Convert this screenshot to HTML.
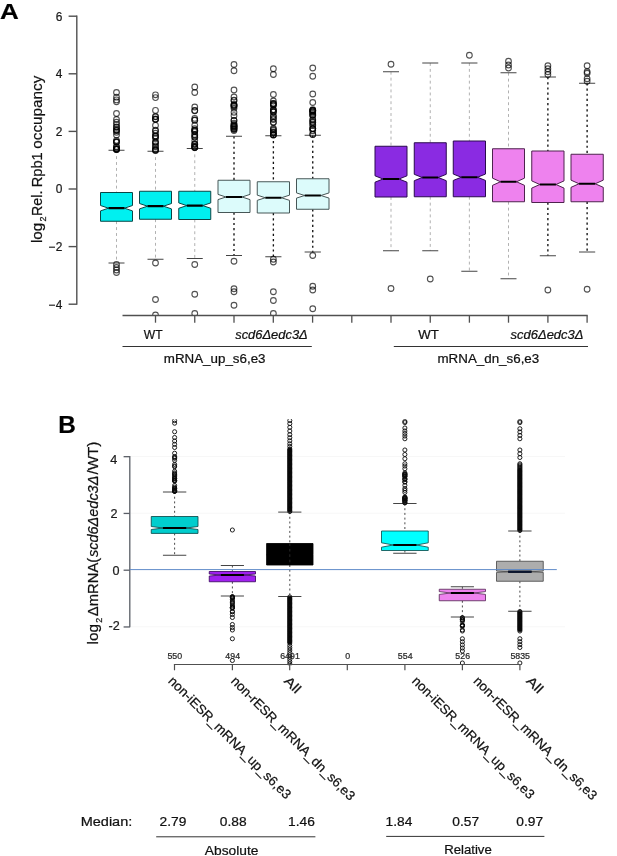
<!DOCTYPE html>
<html lang="en"><head><meta charset="utf-8"><title>Figure: Rpb1 occupancy and mRNA changes</title>
<style>html,body{margin:0;padding:0;background:#fff;}body{width:617px;height:856px;overflow:hidden;}svg{display:block;font-family:'Liberation Sans', sans-serif;}text{white-space:pre;stroke:#111;stroke-width:0.22px;}</style></head><body>
<svg width="617" height="856" viewBox="0 0 617 856">
<rect x="0" y="0" width="617" height="856" fill="#ffffff"/>
<g id="panelA">
<text x="0.1" y="18.7" font-size="22.6" text-anchor="start" fill="#000" font-weight="bold" textLength="18.8" lengthAdjust="spacingAndGlyphs">A</text>
<line x1="76.8" y1="15.6" x2="76.8" y2="304.8" stroke="#505050" stroke-width="1.4"/>
<line x1="68.6" y1="16.2" x2="76.8" y2="16.2" stroke="#505050" stroke-width="1.4"/>
<text x="62.3" y="20.6" font-size="11.9" text-anchor="end" fill="#1c1c1c" stroke="#1c1c1c" stroke-width="0.35">6</text>
<line x1="68.6" y1="73.8" x2="76.8" y2="73.8" stroke="#505050" stroke-width="1.4"/>
<text x="62.3" y="78.2" font-size="11.9" text-anchor="end" fill="#1c1c1c" stroke="#1c1c1c" stroke-width="0.35">4</text>
<line x1="68.6" y1="131.4" x2="76.8" y2="131.4" stroke="#505050" stroke-width="1.4"/>
<text x="62.3" y="135.8" font-size="11.9" text-anchor="end" fill="#1c1c1c" stroke="#1c1c1c" stroke-width="0.35">2</text>
<line x1="68.6" y1="189" x2="76.8" y2="189" stroke="#505050" stroke-width="1.4"/>
<text x="62.3" y="193.4" font-size="11.9" text-anchor="end" fill="#1c1c1c" stroke="#1c1c1c" stroke-width="0.35">0</text>
<line x1="68.6" y1="246.6" x2="76.8" y2="246.6" stroke="#505050" stroke-width="1.4"/>
<text x="62.3" y="251" font-size="11.9" text-anchor="end" fill="#1c1c1c" stroke="#1c1c1c" stroke-width="0.35">−2</text>
<line x1="68.6" y1="304.2" x2="76.8" y2="304.2" stroke="#505050" stroke-width="1.4"/>
<text x="62.3" y="308.6" font-size="11.9" text-anchor="end" fill="#1c1c1c" stroke="#1c1c1c" stroke-width="0.35">−4</text>
<g transform="translate(41.8 243.0) rotate(-90)">
<text x="0" y="0" font-size="15.2" text-anchor="start" fill="#111" textLength="20.2" lengthAdjust="spacingAndGlyphs">log</text>
<text x="21.4" y="4.3" font-size="8.8" text-anchor="start" fill="#111" textLength="5" lengthAdjust="spacingAndGlyphs">2</text>
<text x="27" y="0" font-size="15.2" text-anchor="start" fill="#111" textLength="25.4" lengthAdjust="spacingAndGlyphs">Rel.</text>
<text x="55.7" y="0" font-size="15.2" text-anchor="start" fill="#111" textLength="35.1" lengthAdjust="spacingAndGlyphs">Rpb1</text>
<text x="94.3" y="0" font-size="15.2" text-anchor="start" fill="#111" textLength="73.1" lengthAdjust="spacingAndGlyphs">occupancy</text>
</g>
<clipPath id="clipA"><rect x="78" y="10" width="539" height="305.6"/></clipPath>
<g clip-path="url(#clipA)">
<line x1="116.5" y1="150.25" x2="116.5" y2="192.5" stroke="#adadad" stroke-width="0.95" stroke-dasharray="2.9 3.0"/>
<line x1="116.5" y1="221.25" x2="116.5" y2="263" stroke="#adadad" stroke-width="0.95" stroke-dasharray="2.9 3.0"/>
<line x1="108.5" y1="150.25" x2="124.5" y2="150.25" stroke="#444" stroke-width="1"/>
<line x1="108.5" y1="263" x2="124.5" y2="263" stroke="#444" stroke-width="1"/>
<g fill="none" stroke="#000" stroke-opacity="0.68" stroke-width="1.1"><circle cx="116.5" cy="92.5" r="2.85"/><circle cx="116.5" cy="97.2" r="2.85"/><circle cx="116.5" cy="99.9" r="2.85"/><circle cx="116.5" cy="101.8" r="2.85"/><circle cx="116.5" cy="113.5" r="2.85"/><circle cx="116.5" cy="149.4" r="2.85"/><circle cx="116.5" cy="149.4" r="2.85"/><circle cx="116.5" cy="149.33" r="2.85"/><circle cx="116.5" cy="149.32" r="2.85"/><circle cx="116.5" cy="148.86" r="2.85"/><circle cx="116.5" cy="148.41" r="2.85"/><circle cx="116.5" cy="146.96" r="2.85"/><circle cx="116.5" cy="146.47" r="2.85"/><circle cx="116.5" cy="142.2" r="2.85"/><circle cx="116.5" cy="141.84" r="2.85"/><circle cx="116.5" cy="141.72" r="2.85"/><circle cx="116.5" cy="140.34" r="2.85"/><circle cx="116.5" cy="134.96" r="2.85"/><circle cx="116.5" cy="132.23" r="2.85"/><circle cx="116.5" cy="130.55" r="2.85"/><circle cx="116.5" cy="130.49" r="2.85"/><circle cx="116.5" cy="129.43" r="2.85"/><circle cx="116.5" cy="127.36" r="2.85"/><circle cx="116.5" cy="126.83" r="2.85"/><circle cx="116.5" cy="124.34" r="2.85"/><circle cx="116.5" cy="122.23" r="2.85"/><circle cx="116.5" cy="119.5" r="2.85"/><circle cx="116.5" cy="264.5" r="2.85"/><circle cx="116.5" cy="267.5" r="2.85"/><circle cx="116.5" cy="270" r="2.85"/><circle cx="116.5" cy="272.5" r="2.85"/></g>
<polygon points="100.5,192.5 132.5,192.5 132.5,205.5 124.5,208.2 132.5,210.9 132.5,221.25 100.5,221.25 100.5,210.9 108.5,208.2 100.5,205.5" fill="#00f0f0" stroke="#0a4646" stroke-width="1" stroke-linejoin="miter"/>
<line x1="108.5" y1="208.2" x2="124.5" y2="208.2" stroke="#000" stroke-width="2.2"/>
<line x1="155.5" y1="151.25" x2="155.5" y2="191.25" stroke="#adadad" stroke-width="0.95" stroke-dasharray="2.9 3.0"/>
<line x1="155.5" y1="219.25" x2="155.5" y2="259.25" stroke="#adadad" stroke-width="0.95" stroke-dasharray="2.9 3.0"/>
<line x1="147.5" y1="151.25" x2="163.5" y2="151.25" stroke="#444" stroke-width="1"/>
<line x1="147.5" y1="259.25" x2="163.5" y2="259.25" stroke="#444" stroke-width="1"/>
<g fill="none" stroke="#000" stroke-opacity="0.68" stroke-width="1.1"><circle cx="155.5" cy="94.8" r="2.85"/><circle cx="155.5" cy="97.6" r="2.85"/><circle cx="155.5" cy="110.4" r="2.85"/><circle cx="155.5" cy="150.4" r="2.85"/><circle cx="155.5" cy="150.14" r="2.85"/><circle cx="155.5" cy="149.89" r="2.85"/><circle cx="155.5" cy="148.92" r="2.85"/><circle cx="155.5" cy="146.78" r="2.85"/><circle cx="155.5" cy="145.82" r="2.85"/><circle cx="155.5" cy="143.46" r="2.85"/><circle cx="155.5" cy="142.3" r="2.85"/><circle cx="155.5" cy="141.85" r="2.85"/><circle cx="155.5" cy="138.35" r="2.85"/><circle cx="155.5" cy="136.92" r="2.85"/><circle cx="155.5" cy="135.93" r="2.85"/><circle cx="155.5" cy="135.9" r="2.85"/><circle cx="155.5" cy="133.25" r="2.85"/><circle cx="155.5" cy="130.87" r="2.85"/><circle cx="155.5" cy="130.27" r="2.85"/><circle cx="155.5" cy="125.42" r="2.85"/><circle cx="155.5" cy="119.45" r="2.85"/><circle cx="155.5" cy="119.36" r="2.85"/><circle cx="155.5" cy="118.99" r="2.85"/><circle cx="155.5" cy="116.8" r="2.85"/><circle cx="155.5" cy="116.5" r="2.85"/><circle cx="155.5" cy="263" r="2.85"/><circle cx="155.5" cy="299.5" r="2.85"/><circle cx="155.5" cy="315" r="2.85"/></g>
<polygon points="139.5,191.25 171.5,191.25 171.5,203.5 163.5,206.2 171.5,208.9 171.5,219.25 139.5,219.25 139.5,208.9 147.5,206.2 139.5,203.5" fill="#00f0f0" stroke="#0a4646" stroke-width="1" stroke-linejoin="miter"/>
<line x1="147.5" y1="206.2" x2="163.5" y2="206.2" stroke="#000" stroke-width="2.2"/>
<line x1="194.75" y1="148.5" x2="194.75" y2="191.25" stroke="#adadad" stroke-width="0.95" stroke-dasharray="2.9 3.0"/>
<line x1="194.75" y1="219.5" x2="194.75" y2="258.5" stroke="#adadad" stroke-width="0.95" stroke-dasharray="2.9 3.0"/>
<line x1="186.75" y1="148.5" x2="202.75" y2="148.5" stroke="#444" stroke-width="1"/>
<line x1="186.75" y1="258.5" x2="202.75" y2="258.5" stroke="#444" stroke-width="1"/>
<g fill="none" stroke="#000" stroke-opacity="0.68" stroke-width="1.1"><circle cx="194.75" cy="87" r="2.85"/><circle cx="194.75" cy="92.5" r="2.85"/><circle cx="194.75" cy="107" r="2.85"/><circle cx="194.75" cy="147.6" r="2.85"/><circle cx="194.75" cy="147.58" r="2.85"/><circle cx="194.75" cy="147.25" r="2.85"/><circle cx="194.75" cy="147.24" r="2.85"/><circle cx="194.75" cy="146.11" r="2.85"/><circle cx="194.75" cy="144.45" r="2.85"/><circle cx="194.75" cy="144.37" r="2.85"/><circle cx="194.75" cy="143.86" r="2.85"/><circle cx="194.75" cy="140.76" r="2.85"/><circle cx="194.75" cy="137.31" r="2.85"/><circle cx="194.75" cy="137.08" r="2.85"/><circle cx="194.75" cy="135.27" r="2.85"/><circle cx="194.75" cy="134.41" r="2.85"/><circle cx="194.75" cy="131.86" r="2.85"/><circle cx="194.75" cy="130.88" r="2.85"/><circle cx="194.75" cy="130.46" r="2.85"/><circle cx="194.75" cy="130.27" r="2.85"/><circle cx="194.75" cy="128.75" r="2.85"/><circle cx="194.75" cy="125.3" r="2.85"/><circle cx="194.75" cy="120.21" r="2.85"/><circle cx="194.75" cy="120.16" r="2.85"/><circle cx="194.75" cy="118.43" r="2.85"/><circle cx="194.75" cy="110.77" r="2.85"/><circle cx="194.75" cy="110.5" r="2.85"/><circle cx="194.75" cy="264.5" r="2.85"/><circle cx="194.75" cy="294.25" r="2.85"/><circle cx="194.75" cy="313.5" r="2.85"/></g>
<polygon points="178.75,191.25 210.75,191.25 210.75,202.9 202.75,205.6 210.75,208.3 210.75,219.5 178.75,219.5 178.75,208.3 186.75,205.6 178.75,202.9" fill="#00f0f0" stroke="#0a4646" stroke-width="1" stroke-linejoin="miter"/>
<line x1="186.75" y1="205.6" x2="202.75" y2="205.6" stroke="#000" stroke-width="2.2"/>
<line x1="234" y1="136.25" x2="234" y2="180.25" stroke="#111" stroke-width="1.35" stroke-dasharray="2.2 3.0"/>
<line x1="234" y1="212.5" x2="234" y2="255.5" stroke="#111" stroke-width="1.35" stroke-dasharray="2.2 3.0"/>
<line x1="226" y1="136.25" x2="242" y2="136.25" stroke="#444" stroke-width="1"/>
<line x1="226" y1="255.5" x2="242" y2="255.5" stroke="#444" stroke-width="1"/>
<g fill="none" stroke="#000" stroke-opacity="0.68" stroke-width="1.1"><circle cx="234" cy="64.5" r="2.85"/><circle cx="234" cy="70.75" r="2.85"/><circle cx="234" cy="90" r="2.85"/><circle cx="234" cy="130.6" r="2.85"/><circle cx="234" cy="129.61" r="2.85"/><circle cx="234" cy="128.85" r="2.85"/><circle cx="234" cy="128.78" r="2.85"/><circle cx="234" cy="127.62" r="2.85"/><circle cx="234" cy="127.17" r="2.85"/><circle cx="234" cy="126.63" r="2.85"/><circle cx="234" cy="126.06" r="2.85"/><circle cx="234" cy="125.85" r="2.85"/><circle cx="234" cy="125.46" r="2.85"/><circle cx="234" cy="124.28" r="2.85"/><circle cx="234" cy="123.27" r="2.85"/><circle cx="234" cy="120.52" r="2.85"/><circle cx="234" cy="120.34" r="2.85"/><circle cx="234" cy="115.64" r="2.85"/><circle cx="234" cy="112.29" r="2.85"/><circle cx="234" cy="108.21" r="2.85"/><circle cx="234" cy="106.87" r="2.85"/><circle cx="234" cy="105.44" r="2.85"/><circle cx="234" cy="105.44" r="2.85"/><circle cx="234" cy="105.19" r="2.85"/><circle cx="234" cy="104.27" r="2.85"/><circle cx="234" cy="100.54" r="2.85"/><circle cx="234" cy="100.13" r="2.85"/><circle cx="234" cy="97" r="2.85"/><circle cx="234" cy="261.25" r="2.85"/><circle cx="234" cy="288.75" r="2.85"/><circle cx="234" cy="291.75" r="2.85"/><circle cx="234" cy="305.25" r="2.85"/></g>
<polygon points="218,180.25 250,180.25 250,194.4 242,197 250,199.6 250,212.5 218,212.5 218,199.6 226,197 218,194.4" fill="#dcfbfb" stroke="#475757" stroke-width="1" stroke-linejoin="miter"/>
<line x1="226" y1="197" x2="242" y2="197" stroke="#000" stroke-width="2.2"/>
<line x1="273.38" y1="135.75" x2="273.38" y2="181.75" stroke="#111" stroke-width="1.35" stroke-dasharray="2.2 3.0"/>
<line x1="273.38" y1="213" x2="273.38" y2="256.75" stroke="#111" stroke-width="1.35" stroke-dasharray="2.2 3.0"/>
<line x1="265.31" y1="135.75" x2="281.44" y2="135.75" stroke="#444" stroke-width="1"/>
<line x1="265.31" y1="256.75" x2="281.44" y2="256.75" stroke="#444" stroke-width="1"/>
<g fill="none" stroke="#000" stroke-opacity="0.68" stroke-width="1.1"><circle cx="273.38" cy="68.75" r="2.85"/><circle cx="273.38" cy="74.5" r="2.85"/><circle cx="273.38" cy="94.5" r="2.85"/><circle cx="273.38" cy="135" r="2.85"/><circle cx="273.38" cy="134.88" r="2.85"/><circle cx="273.38" cy="134.66" r="2.85"/><circle cx="273.38" cy="133" r="2.85"/><circle cx="273.38" cy="132.39" r="2.85"/><circle cx="273.38" cy="131.87" r="2.85"/><circle cx="273.38" cy="130.34" r="2.85"/><circle cx="273.38" cy="129.49" r="2.85"/><circle cx="273.38" cy="128.52" r="2.85"/><circle cx="273.38" cy="122.41" r="2.85"/><circle cx="273.38" cy="122.29" r="2.85"/><circle cx="273.38" cy="119.6" r="2.85"/><circle cx="273.38" cy="118.48" r="2.85"/><circle cx="273.38" cy="116.63" r="2.85"/><circle cx="273.38" cy="115.62" r="2.85"/><circle cx="273.38" cy="112.02" r="2.85"/><circle cx="273.38" cy="111.94" r="2.85"/><circle cx="273.38" cy="110.97" r="2.85"/><circle cx="273.38" cy="109.76" r="2.85"/><circle cx="273.38" cy="109.68" r="2.85"/><circle cx="273.38" cy="105.31" r="2.85"/><circle cx="273.38" cy="104.65" r="2.85"/><circle cx="273.38" cy="104.39" r="2.85"/><circle cx="273.38" cy="103.52" r="2.85"/><circle cx="273.38" cy="103.48" r="2.85"/><circle cx="273.38" cy="101" r="2.85"/><circle cx="273.38" cy="259.25" r="2.85"/><circle cx="273.38" cy="262" r="2.85"/><circle cx="273.38" cy="291.75" r="2.85"/><circle cx="273.38" cy="300.5" r="2.85"/><circle cx="273.38" cy="313.5" r="2.85"/></g>
<polygon points="257.25,181.75 289.5,181.75 289.5,195.15 281.44,197.75 289.5,200.35 289.5,213 257.25,213 257.25,200.35 265.31,197.75 257.25,195.15" fill="#dcfbfb" stroke="#475757" stroke-width="1" stroke-linejoin="miter"/>
<line x1="265.31" y1="197.75" x2="281.44" y2="197.75" stroke="#000" stroke-width="2.2"/>
<line x1="312.75" y1="135.25" x2="312.75" y2="178.75" stroke="#111" stroke-width="1.35" stroke-dasharray="2.2 3.0"/>
<line x1="312.75" y1="209.25" x2="312.75" y2="252" stroke="#111" stroke-width="1.35" stroke-dasharray="2.2 3.0"/>
<line x1="304.62" y1="135.25" x2="320.88" y2="135.25" stroke="#444" stroke-width="1"/>
<line x1="304.62" y1="252" x2="320.88" y2="252" stroke="#444" stroke-width="1"/>
<g fill="none" stroke="#000" stroke-opacity="0.68" stroke-width="1.1"><circle cx="312.75" cy="68" r="2.85"/><circle cx="312.75" cy="76.25" r="2.85"/><circle cx="312.75" cy="94" r="2.85"/><circle cx="312.75" cy="134.4" r="2.85"/><circle cx="312.75" cy="134.4" r="2.85"/><circle cx="312.75" cy="130.64" r="2.85"/><circle cx="312.75" cy="128.82" r="2.85"/><circle cx="312.75" cy="128.71" r="2.85"/><circle cx="312.75" cy="128.51" r="2.85"/><circle cx="312.75" cy="125.54" r="2.85"/><circle cx="312.75" cy="124.26" r="2.85"/><circle cx="312.75" cy="122.44" r="2.85"/><circle cx="312.75" cy="121.95" r="2.85"/><circle cx="312.75" cy="120.14" r="2.85"/><circle cx="312.75" cy="119.61" r="2.85"/><circle cx="312.75" cy="115.71" r="2.85"/><circle cx="312.75" cy="115" r="2.85"/><circle cx="312.75" cy="114.87" r="2.85"/><circle cx="312.75" cy="113.22" r="2.85"/><circle cx="312.75" cy="112.08" r="2.85"/><circle cx="312.75" cy="111.68" r="2.85"/><circle cx="312.75" cy="110.79" r="2.85"/><circle cx="312.75" cy="110.46" r="2.85"/><circle cx="312.75" cy="110.4" r="2.85"/><circle cx="312.75" cy="110.33" r="2.85"/><circle cx="312.75" cy="109.68" r="2.85"/><circle cx="312.75" cy="102.5" r="2.85"/><circle cx="312.75" cy="255.5" r="2.85"/><circle cx="312.75" cy="286.25" r="2.85"/><circle cx="312.75" cy="290" r="2.85"/><circle cx="312.75" cy="308.75" r="2.85"/></g>
<polygon points="296.5,178.75 329,178.75 329,192.9 320.88,195.5 329,198.1 329,209.25 296.5,209.25 296.5,198.1 304.62,195.5 296.5,192.9" fill="#dcfbfb" stroke="#475757" stroke-width="1" stroke-linejoin="miter"/>
<line x1="304.62" y1="195.5" x2="320.88" y2="195.5" stroke="#000" stroke-width="2.2"/>
<line x1="391" y1="71.75" x2="391" y2="146.25" stroke="#adadad" stroke-width="0.95" stroke-dasharray="2.9 3.0"/>
<line x1="391" y1="197" x2="391" y2="250.75" stroke="#adadad" stroke-width="0.95" stroke-dasharray="2.9 3.0"/>
<line x1="383" y1="71.75" x2="399" y2="71.75" stroke="#444" stroke-width="1"/>
<line x1="383" y1="250.75" x2="399" y2="250.75" stroke="#444" stroke-width="1"/>
<g fill="none" stroke="#000" stroke-opacity="0.68" stroke-width="1.1"><circle cx="391" cy="64.25" r="2.85"/><circle cx="391" cy="288.5" r="2.85"/></g>
<polygon points="375,146.25 407,146.25 407,175.8 399,179 407,182.2 407,197 375,197 375,182.2 383,179 375,175.8" fill="#8a2be2" stroke="#2a0a4e" stroke-width="1" stroke-linejoin="miter"/>
<line x1="383" y1="179" x2="399" y2="179" stroke="#000" stroke-width="2.2"/>
<line x1="430.25" y1="63" x2="430.25" y2="142.75" stroke="#adadad" stroke-width="0.95" stroke-dasharray="2.9 3.0"/>
<line x1="430.25" y1="196.75" x2="430.25" y2="250.75" stroke="#adadad" stroke-width="0.95" stroke-dasharray="2.9 3.0"/>
<line x1="422.25" y1="63" x2="438.25" y2="63" stroke="#444" stroke-width="1"/>
<line x1="422.25" y1="250.75" x2="438.25" y2="250.75" stroke="#444" stroke-width="1"/>
<g fill="none" stroke="#000" stroke-opacity="0.68" stroke-width="1.1"><circle cx="430.25" cy="279" r="2.85"/></g>
<polygon points="414.25,142.75 446.25,142.75 446.25,174.3 438.25,177.5 446.25,180.7 446.25,196.75 414.25,196.75 414.25,180.7 422.25,177.5 414.25,174.3" fill="#8a2be2" stroke="#2a0a4e" stroke-width="1" stroke-linejoin="miter"/>
<line x1="422.25" y1="177.5" x2="438.25" y2="177.5" stroke="#000" stroke-width="2.2"/>
<line x1="469.38" y1="63" x2="469.38" y2="141" stroke="#adadad" stroke-width="0.95" stroke-dasharray="2.9 3.0"/>
<line x1="469.38" y1="196.75" x2="469.38" y2="271.25" stroke="#adadad" stroke-width="0.95" stroke-dasharray="2.9 3.0"/>
<line x1="461.31" y1="63" x2="477.44" y2="63" stroke="#444" stroke-width="1"/>
<line x1="461.31" y1="271.25" x2="477.44" y2="271.25" stroke="#444" stroke-width="1"/>
<g fill="none" stroke="#000" stroke-opacity="0.68" stroke-width="1.1"><circle cx="469.38" cy="55.25" r="2.85"/></g>
<polygon points="453.25,141 485.5,141 485.5,174.05 477.44,177.25 485.5,180.45 485.5,196.75 453.25,196.75 453.25,180.45 461.31,177.25 453.25,174.05" fill="#8a2be2" stroke="#2a0a4e" stroke-width="1" stroke-linejoin="miter"/>
<line x1="461.31" y1="177.25" x2="477.44" y2="177.25" stroke="#000" stroke-width="2.2"/>
<line x1="508.5" y1="72.75" x2="508.5" y2="148.75" stroke="#adadad" stroke-width="0.95" stroke-dasharray="2.9 3.0"/>
<line x1="508.5" y1="201.75" x2="508.5" y2="278.75" stroke="#adadad" stroke-width="0.95" stroke-dasharray="2.9 3.0"/>
<line x1="500.5" y1="72.75" x2="516.5" y2="72.75" stroke="#444" stroke-width="1"/>
<line x1="500.5" y1="278.75" x2="516.5" y2="278.75" stroke="#444" stroke-width="1"/>
<g fill="none" stroke="#000" stroke-opacity="0.68" stroke-width="1.1"><circle cx="508.5" cy="61.25" r="2.85"/><circle cx="508.5" cy="65" r="2.85"/><circle cx="508.5" cy="68" r="2.85"/></g>
<polygon points="492.5,148.75 524.5,148.75 524.5,178.15 516.5,181.75 524.5,185.35 524.5,201.75 492.5,201.75 492.5,185.35 500.5,181.75 492.5,178.15" fill="#ee82ee" stroke="#4e234e" stroke-width="1" stroke-linejoin="miter"/>
<line x1="500.5" y1="181.75" x2="516.5" y2="181.75" stroke="#000" stroke-width="2.2"/>
<line x1="547.88" y1="77" x2="547.88" y2="151" stroke="#111" stroke-width="1.35" stroke-dasharray="2.2 3.0"/>
<line x1="547.88" y1="202.5" x2="547.88" y2="255.75" stroke="#111" stroke-width="1.35" stroke-dasharray="2.2 3.0"/>
<line x1="539.81" y1="77" x2="555.94" y2="77" stroke="#444" stroke-width="1"/>
<line x1="539.81" y1="255.75" x2="555.94" y2="255.75" stroke="#444" stroke-width="1"/>
<g fill="none" stroke="#000" stroke-opacity="0.68" stroke-width="1.1"><circle cx="547.88" cy="65.75" r="2.85"/><circle cx="547.88" cy="68.75" r="2.85"/><circle cx="547.88" cy="71.75" r="2.85"/><circle cx="547.88" cy="74.5" r="2.85"/><circle cx="547.88" cy="290" r="2.85"/></g>
<polygon points="531.75,151 564,151 564,180.9 555.94,184.5 564,188.1 564,202.5 531.75,202.5 531.75,188.1 539.81,184.5 531.75,180.9" fill="#ee82ee" stroke="#4e234e" stroke-width="1" stroke-linejoin="miter"/>
<line x1="539.81" y1="184.5" x2="555.94" y2="184.5" stroke="#000" stroke-width="2.2"/>
<line x1="587.12" y1="83.25" x2="587.12" y2="154.25" stroke="#111" stroke-width="1.35" stroke-dasharray="2.2 3.0"/>
<line x1="587.12" y1="201.75" x2="587.12" y2="252" stroke="#111" stroke-width="1.35" stroke-dasharray="2.2 3.0"/>
<line x1="579.06" y1="83.25" x2="595.19" y2="83.25" stroke="#444" stroke-width="1"/>
<line x1="579.06" y1="252" x2="595.19" y2="252" stroke="#444" stroke-width="1"/>
<g fill="none" stroke="#000" stroke-opacity="0.68" stroke-width="1.1"><circle cx="587.12" cy="65.75" r="2.85"/><circle cx="587.12" cy="71.75" r="2.85"/><circle cx="587.12" cy="73.25" r="2.85"/><circle cx="587.12" cy="78.75" r="2.85"/><circle cx="587.12" cy="81.25" r="2.85"/><circle cx="587.12" cy="289.25" r="2.85"/></g>
<polygon points="571,154.25 603.25,154.25 603.25,180.15 595.19,183.75 603.25,187.35 603.25,201.75 571,201.75 571,187.35 579.06,183.75 571,180.15" fill="#ee82ee" stroke="#4e234e" stroke-width="1" stroke-linejoin="miter"/>
<line x1="579.06" y1="183.75" x2="595.19" y2="183.75" stroke="#000" stroke-width="2.2"/>
</g>
<line x1="122.5" y1="315.5" x2="587.7" y2="315.5" stroke="#505050" stroke-width="1.3"/>
<line x1="155.5" y1="315.5" x2="155.5" y2="322.7" stroke="#505050" stroke-width="1.3"/>
<line x1="194.75" y1="315.5" x2="194.75" y2="322.7" stroke="#505050" stroke-width="1.3"/>
<line x1="234" y1="315.5" x2="234" y2="322.7" stroke="#505050" stroke-width="1.3"/>
<line x1="273.3" y1="315.5" x2="273.3" y2="322.7" stroke="#505050" stroke-width="1.3"/>
<line x1="312.6" y1="315.5" x2="312.6" y2="322.7" stroke="#505050" stroke-width="1.3"/>
<line x1="351.8" y1="315.5" x2="351.8" y2="322.7" stroke="#505050" stroke-width="1.3"/>
<line x1="391" y1="315.5" x2="391" y2="322.7" stroke="#505050" stroke-width="1.3"/>
<line x1="430.25" y1="315.5" x2="430.25" y2="322.7" stroke="#505050" stroke-width="1.3"/>
<line x1="469.4" y1="315.5" x2="469.4" y2="322.7" stroke="#505050" stroke-width="1.3"/>
<line x1="508.5" y1="315.5" x2="508.5" y2="322.7" stroke="#505050" stroke-width="1.3"/>
<line x1="547.9" y1="315.5" x2="547.9" y2="322.7" stroke="#505050" stroke-width="1.3"/>
<line x1="587.1" y1="315.5" x2="587.1" y2="322.7" stroke="#505050" stroke-width="1.3"/>
<text x="143.8" y="338.8" font-size="12.6" text-anchor="start" fill="#111" textLength="18.8" lengthAdjust="spacingAndGlyphs">WT</text>
<text x="235.2" y="338.8" font-size="12.6" text-anchor="start" fill="#111" font-style="italic" textLength="72.6" lengthAdjust="spacingAndGlyphs">scd6Δedc3Δ</text>
<line x1="122.5" y1="346.5" x2="311.8" y2="346.5" stroke="#333" stroke-width="1"/>
<text x="163.8" y="363" font-size="12.6" text-anchor="start" fill="#111" textLength="101.7" lengthAdjust="spacingAndGlyphs">mRNA_up_s6,e3</text>
<text x="418.3" y="338.8" font-size="12.6" text-anchor="start" fill="#111" textLength="20.6" lengthAdjust="spacingAndGlyphs">WT</text>
<text x="510.6" y="338.8" font-size="12.6" text-anchor="start" fill="#111" font-style="italic" textLength="72.8" lengthAdjust="spacingAndGlyphs">scd6Δedc3Δ</text>
<line x1="393.8" y1="346.5" x2="588" y2="346.5" stroke="#333" stroke-width="1"/>
<text x="437.5" y="363" font-size="12.6" text-anchor="start" fill="#111" textLength="101.7" lengthAdjust="spacingAndGlyphs">mRNA_dn_s6,e3</text>
</g>
<g id="panelB">
<text x="58.3" y="432.6" font-size="23.6" text-anchor="start" fill="#000" font-weight="bold" textLength="17.6" lengthAdjust="spacingAndGlyphs">B</text>
<line x1="130.8" y1="456.48" x2="565" y2="456.48" stroke="#f5f5f5" stroke-width="0.8"/>
<line x1="130.8" y1="513.24" x2="565" y2="513.24" stroke="#f5f5f5" stroke-width="0.8"/>
<line x1="130.8" y1="626.76" x2="565" y2="626.76" stroke="#f5f5f5" stroke-width="0.8"/>
<line x1="129.8" y1="455.98" x2="129.8" y2="627.26" stroke="#5a5e66" stroke-width="1.3"/>
<line x1="123.6" y1="456.68" x2="129.8" y2="456.68" stroke="#5a5e66" stroke-width="1.3"/>
<line x1="123.6" y1="513.44" x2="129.8" y2="513.44" stroke="#5a5e66" stroke-width="1.3"/>
<line x1="123.6" y1="570.2" x2="129.8" y2="570.2" stroke="#5a5e66" stroke-width="1.3"/>
<line x1="123.6" y1="626.96" x2="129.8" y2="626.96" stroke="#5a5e66" stroke-width="1.3"/>
<text x="113.8" y="464.3" font-size="12.6" text-anchor="middle" fill="#222">4</text>
<text x="113.9" y="518.1" font-size="12.6" text-anchor="middle" fill="#222">2</text>
<text x="116" y="575.1" font-size="12.6" text-anchor="middle" fill="#222">0</text>
<text x="114.2" y="629.7" font-size="12.6" text-anchor="middle" fill="#222">-2</text>
<g transform="translate(98.0 644.4) rotate(-90)">
<text x="0" y="0" font-size="15" text-anchor="start" fill="#111" textLength="20.4" lengthAdjust="spacingAndGlyphs">log</text>
<text x="21.6" y="4.2" font-size="8.8" text-anchor="start" fill="#111" textLength="5" lengthAdjust="spacingAndGlyphs">2</text>
<text x="28.2" y="0" font-size="15" text-anchor="start" fill="#111" textLength="58.4" lengthAdjust="spacingAndGlyphs">ΔmRNA(</text>
<text x="87.4" y="0" font-size="15" text-anchor="start" fill="#111" font-style="italic" textLength="81.4" lengthAdjust="spacingAndGlyphs">scd6Δedc3Δ</text>
<text x="169.8" y="0" font-size="15" text-anchor="start" fill="#111" textLength="33" lengthAdjust="spacingAndGlyphs">/WT)</text>
</g>
<clipPath id="clipB"><rect x="131" y="419.2" width="440" height="246"/></clipPath>
<g clip-path="url(#clipB)">
<line x1="174.62" y1="492" x2="174.62" y2="516.5" stroke="#4a4a4a" stroke-width="1" stroke-dasharray="2.0 2.7"/>
<line x1="174.62" y1="533.4" x2="174.62" y2="555.25" stroke="#4a4a4a" stroke-width="1" stroke-dasharray="2.0 2.7"/>
<line x1="162.94" y1="492" x2="186.31" y2="492" stroke="#444" stroke-width="1"/>
<line x1="162.94" y1="555.25" x2="186.31" y2="555.25" stroke="#444" stroke-width="1"/>
<g fill="none" stroke="#0a0a0a" stroke-opacity="1" stroke-width="0.9"><circle cx="174.62" cy="420.6" r="2.05"/><circle cx="174.62" cy="423.2" r="2.05"/><circle cx="174.62" cy="431.75" r="2.05"/><circle cx="174.62" cy="437.5" r="2.05"/><circle cx="174.62" cy="441" r="2.05"/><circle cx="174.62" cy="444.3" r="2.05"/><circle cx="174.62" cy="447.5" r="2.05"/><circle cx="174.62" cy="453.25" r="2.05"/><circle cx="174.62" cy="491.3" r="2.05"/><circle cx="174.62" cy="491.24" r="2.05"/><circle cx="174.62" cy="491.12" r="2.05"/><circle cx="174.62" cy="491" r="2.05"/><circle cx="174.62" cy="490.79" r="2.05"/><circle cx="174.62" cy="490.35" r="2.05"/><circle cx="174.62" cy="490.3" r="2.05"/><circle cx="174.62" cy="489.12" r="2.05"/><circle cx="174.62" cy="488.54" r="2.05"/><circle cx="174.62" cy="488.41" r="2.05"/><circle cx="174.62" cy="487.16" r="2.05"/><circle cx="174.62" cy="485.48" r="2.05"/><circle cx="174.62" cy="481.12" r="2.05"/><circle cx="174.62" cy="480.71" r="2.05"/><circle cx="174.62" cy="480.3" r="2.05"/><circle cx="174.62" cy="480.24" r="2.05"/><circle cx="174.62" cy="478.71" r="2.05"/><circle cx="174.62" cy="478.55" r="2.05"/><circle cx="174.62" cy="477.93" r="2.05"/><circle cx="174.62" cy="476.73" r="2.05"/><circle cx="174.62" cy="475.63" r="2.05"/><circle cx="174.62" cy="474.49" r="2.05"/><circle cx="174.62" cy="473.9" r="2.05"/><circle cx="174.62" cy="472.9" r="2.05"/><circle cx="174.62" cy="471.2" r="2.05"/><circle cx="174.62" cy="466.73" r="2.05"/><circle cx="174.62" cy="465.95" r="2.05"/><circle cx="174.62" cy="464.39" r="2.05"/><circle cx="174.62" cy="460.38" r="2.05"/><circle cx="174.62" cy="458.32" r="2.05"/><circle cx="174.62" cy="457.43" r="2.05"/><circle cx="174.62" cy="456.5" r="2.05"/></g>
<polygon points="151.25,516.5 198,516.5 198,526.5 186.31,528 198,529.5 198,533.4 151.25,533.4 151.25,529.5 162.94,528 151.25,526.5" fill="#00cdcd" stroke="#0b4a4a" stroke-width="0.85" stroke-linejoin="miter"/>
<line x1="162.94" y1="528" x2="186.31" y2="528" stroke="#000" stroke-width="1.8"/>
<line x1="232.38" y1="565.5" x2="232.38" y2="571.5" stroke="#4a4a4a" stroke-width="1" stroke-dasharray="2.0 2.7"/>
<line x1="232.38" y1="581.75" x2="232.38" y2="596" stroke="#4a4a4a" stroke-width="1" stroke-dasharray="2.0 2.7"/>
<line x1="220.81" y1="565.5" x2="243.94" y2="565.5" stroke="#444" stroke-width="1"/>
<line x1="220.81" y1="596" x2="243.94" y2="596" stroke="#444" stroke-width="1"/>
<g fill="none" stroke="#0a0a0a" stroke-opacity="1" stroke-width="0.9"><circle cx="232.38" cy="530" r="2.05"/><circle cx="232.38" cy="596.8" r="2.05"/><circle cx="232.38" cy="596.81" r="2.05"/><circle cx="232.38" cy="597.02" r="2.05"/><circle cx="232.38" cy="597.72" r="2.05"/><circle cx="232.38" cy="597.75" r="2.05"/><circle cx="232.38" cy="597.93" r="2.05"/><circle cx="232.38" cy="599.41" r="2.05"/><circle cx="232.38" cy="601.1" r="2.05"/><circle cx="232.38" cy="602.37" r="2.05"/><circle cx="232.38" cy="603.08" r="2.05"/><circle cx="232.38" cy="604.94" r="2.05"/><circle cx="232.38" cy="605.98" r="2.05"/><circle cx="232.38" cy="607.38" r="2.05"/><circle cx="232.38" cy="607.48" r="2.05"/><circle cx="232.38" cy="607.61" r="2.05"/><circle cx="232.38" cy="608.25" r="2.05"/><circle cx="232.38" cy="611.59" r="2.05"/><circle cx="232.38" cy="611.83" r="2.05"/><circle cx="232.38" cy="614.47" r="2.05"/><circle cx="232.38" cy="617.5" r="2.05"/><circle cx="232.38" cy="624.5" r="2.05"/><circle cx="232.38" cy="627.5" r="2.05"/><circle cx="232.38" cy="630" r="2.05"/><circle cx="232.38" cy="638.75" r="2.05"/><circle cx="232.38" cy="660.5" r="2.05"/></g>
<polygon points="209.25,571.5 255.5,571.5 255.5,574 243.94,575 255.5,576 255.5,581.75 209.25,581.75 209.25,576 220.81,575 209.25,574" fill="#a020f0" stroke="#3c0a5e" stroke-width="0.85" stroke-linejoin="miter"/>
<line x1="220.81" y1="575" x2="243.94" y2="575" stroke="#000" stroke-width="1.8"/>
<line x1="289.8" y1="449.5" x2="289.8" y2="510.5" stroke="#000" stroke-width="4.3" stroke-linecap="round"/>
<line x1="289.8" y1="598" x2="289.8" y2="642.5" stroke="#000" stroke-width="4.3" stroke-linecap="round"/>
<line x1="289.8" y1="512.1" x2="289.8" y2="543.5" stroke="#4a4a4a" stroke-width="1" stroke-dasharray="2.0 2.7"/>
<line x1="289.8" y1="565" x2="289.8" y2="596.5" stroke="#4a4a4a" stroke-width="1" stroke-dasharray="2.0 2.7"/>
<line x1="278.2" y1="512.1" x2="301.4" y2="512.1" stroke="#444" stroke-width="1"/>
<line x1="278.2" y1="596.5" x2="301.4" y2="596.5" stroke="#444" stroke-width="1"/>
<g fill="none" stroke="#0a0a0a" stroke-opacity="1" stroke-width="0.9"><circle cx="289.8" cy="420.5" r="2.05"/><circle cx="289.8" cy="423.6" r="2.05"/><circle cx="289.8" cy="427.3" r="2.05"/><circle cx="289.8" cy="431" r="2.05"/><circle cx="289.8" cy="434.6" r="2.05"/><circle cx="289.8" cy="437.7" r="2.05"/><circle cx="289.8" cy="440.8" r="2.05"/><circle cx="289.8" cy="443.8" r="2.05"/><circle cx="289.8" cy="446.4" r="2.05"/><circle cx="289.8" cy="449" r="2.05"/><circle cx="289.8" cy="450.3" r="2.05"/><circle cx="289.8" cy="451.6" r="2.05"/><circle cx="289.8" cy="452.91" r="2.05"/><circle cx="289.8" cy="454.21" r="2.05"/><circle cx="289.8" cy="455.51" r="2.05"/><circle cx="289.8" cy="456.81" r="2.05"/><circle cx="289.8" cy="458.11" r="2.05"/><circle cx="289.8" cy="459.42" r="2.05"/><circle cx="289.8" cy="460.72" r="2.05"/><circle cx="289.8" cy="462.02" r="2.05"/><circle cx="289.8" cy="463.32" r="2.05"/><circle cx="289.8" cy="464.62" r="2.05"/><circle cx="289.8" cy="465.93" r="2.05"/><circle cx="289.8" cy="467.23" r="2.05"/><circle cx="289.8" cy="468.53" r="2.05"/><circle cx="289.8" cy="469.83" r="2.05"/><circle cx="289.8" cy="471.14" r="2.05"/><circle cx="289.8" cy="472.44" r="2.05"/><circle cx="289.8" cy="473.74" r="2.05"/><circle cx="289.8" cy="475.04" r="2.05"/><circle cx="289.8" cy="476.34" r="2.05"/><circle cx="289.8" cy="477.65" r="2.05"/><circle cx="289.8" cy="478.95" r="2.05"/><circle cx="289.8" cy="480.25" r="2.05"/><circle cx="289.8" cy="481.55" r="2.05"/><circle cx="289.8" cy="482.85" r="2.05"/><circle cx="289.8" cy="484.16" r="2.05"/><circle cx="289.8" cy="485.46" r="2.05"/><circle cx="289.8" cy="486.76" r="2.05"/><circle cx="289.8" cy="488.06" r="2.05"/><circle cx="289.8" cy="489.36" r="2.05"/><circle cx="289.8" cy="490.67" r="2.05"/><circle cx="289.8" cy="491.97" r="2.05"/><circle cx="289.8" cy="493.27" r="2.05"/><circle cx="289.8" cy="494.57" r="2.05"/><circle cx="289.8" cy="495.88" r="2.05"/><circle cx="289.8" cy="497.18" r="2.05"/><circle cx="289.8" cy="498.48" r="2.05"/><circle cx="289.8" cy="499.78" r="2.05"/><circle cx="289.8" cy="501.08" r="2.05"/><circle cx="289.8" cy="502.39" r="2.05"/><circle cx="289.8" cy="503.69" r="2.05"/><circle cx="289.8" cy="504.99" r="2.05"/><circle cx="289.8" cy="506.29" r="2.05"/><circle cx="289.8" cy="507.59" r="2.05"/><circle cx="289.8" cy="508.9" r="2.05"/><circle cx="289.8" cy="510.2" r="2.05"/><circle cx="289.8" cy="511.5" r="2.05"/><circle cx="289.8" cy="597" r="2.05"/><circle cx="289.8" cy="598.31" r="2.05"/><circle cx="289.8" cy="599.63" r="2.05"/><circle cx="289.8" cy="600.94" r="2.05"/><circle cx="289.8" cy="602.26" r="2.05"/><circle cx="289.8" cy="603.57" r="2.05"/><circle cx="289.8" cy="604.89" r="2.05"/><circle cx="289.8" cy="606.2" r="2.05"/><circle cx="289.8" cy="607.51" r="2.05"/><circle cx="289.8" cy="608.83" r="2.05"/><circle cx="289.8" cy="610.14" r="2.05"/><circle cx="289.8" cy="611.46" r="2.05"/><circle cx="289.8" cy="612.77" r="2.05"/><circle cx="289.8" cy="614.09" r="2.05"/><circle cx="289.8" cy="615.4" r="2.05"/><circle cx="289.8" cy="616.71" r="2.05"/><circle cx="289.8" cy="618.03" r="2.05"/><circle cx="289.8" cy="619.34" r="2.05"/><circle cx="289.8" cy="620.66" r="2.05"/><circle cx="289.8" cy="621.97" r="2.05"/><circle cx="289.8" cy="623.29" r="2.05"/><circle cx="289.8" cy="624.6" r="2.05"/><circle cx="289.8" cy="625.91" r="2.05"/><circle cx="289.8" cy="627.23" r="2.05"/><circle cx="289.8" cy="628.54" r="2.05"/><circle cx="289.8" cy="629.86" r="2.05"/><circle cx="289.8" cy="631.17" r="2.05"/><circle cx="289.8" cy="632.49" r="2.05"/><circle cx="289.8" cy="633.8" r="2.05"/><circle cx="289.8" cy="635.11" r="2.05"/><circle cx="289.8" cy="636.43" r="2.05"/><circle cx="289.8" cy="637.74" r="2.05"/><circle cx="289.8" cy="639.06" r="2.05"/><circle cx="289.8" cy="640.37" r="2.05"/><circle cx="289.8" cy="641.69" r="2.05"/><circle cx="289.8" cy="643" r="2.05"/><circle cx="289.8" cy="645.5" r="2.05"/><circle cx="289.8" cy="647.81" r="2.05"/><circle cx="289.8" cy="650.12" r="2.05"/><circle cx="289.8" cy="652.44" r="2.05"/><circle cx="289.8" cy="654.75" r="2.05"/><circle cx="289.8" cy="657.06" r="2.05"/><circle cx="289.8" cy="659.38" r="2.05"/><circle cx="289.8" cy="661.69" r="2.05"/><circle cx="289.8" cy="664" r="2.05"/></g>
<polygon points="266.6,543.5 313,543.5 313,554.6 301.4,554.6 313,554.6 313,565 266.6,565 266.6,554.6 278.2,554.6 266.6,554.6" fill="#000000" stroke="#000000" stroke-width="0.85" stroke-linejoin="miter"/>
<line x1="278.2" y1="554.6" x2="301.4" y2="554.6" stroke="#000" stroke-width="1.8"/>
<line x1="289.8" y1="543.5" x2="289.8" y2="565" stroke="#333" stroke-width="0.8" stroke-dasharray="2.6 2.8"/>
<line x1="404.88" y1="503.5" x2="404.88" y2="531" stroke="#4a4a4a" stroke-width="1" stroke-dasharray="2.0 2.7"/>
<line x1="404.88" y1="550.5" x2="404.88" y2="553.25" stroke="#4a4a4a" stroke-width="1" stroke-dasharray="2.0 2.7"/>
<line x1="393.19" y1="503.5" x2="416.56" y2="503.5" stroke="#444" stroke-width="1"/>
<line x1="393.19" y1="553.25" x2="416.56" y2="553.25" stroke="#444" stroke-width="1"/>
<g fill="none" stroke="#0a0a0a" stroke-opacity="1" stroke-width="0.9"><circle cx="404.88" cy="421.4" r="2.05"/><circle cx="404.88" cy="422.6" r="2.05"/><circle cx="404.88" cy="428" r="2.05"/><circle cx="404.88" cy="431" r="2.05"/><circle cx="404.88" cy="433.5" r="2.05"/><circle cx="404.88" cy="436" r="2.05"/><circle cx="404.88" cy="438.75" r="2.05"/><circle cx="404.88" cy="450" r="2.05"/><circle cx="404.88" cy="454.5" r="2.05"/><circle cx="404.88" cy="458.75" r="2.05"/><circle cx="404.88" cy="463.75" r="2.05"/><circle cx="404.88" cy="502.8" r="2.05"/><circle cx="404.88" cy="502.74" r="2.05"/><circle cx="404.88" cy="501.07" r="2.05"/><circle cx="404.88" cy="500.73" r="2.05"/><circle cx="404.88" cy="500.72" r="2.05"/><circle cx="404.88" cy="499.85" r="2.05"/><circle cx="404.88" cy="499.16" r="2.05"/><circle cx="404.88" cy="498.87" r="2.05"/><circle cx="404.88" cy="498.73" r="2.05"/><circle cx="404.88" cy="498.01" r="2.05"/><circle cx="404.88" cy="497.95" r="2.05"/><circle cx="404.88" cy="497.47" r="2.05"/><circle cx="404.88" cy="496.91" r="2.05"/><circle cx="404.88" cy="492.37" r="2.05"/><circle cx="404.88" cy="490.3" r="2.05"/><circle cx="404.88" cy="488.55" r="2.05"/><circle cx="404.88" cy="485.34" r="2.05"/><circle cx="404.88" cy="481.98" r="2.05"/><circle cx="404.88" cy="481.92" r="2.05"/><circle cx="404.88" cy="479.66" r="2.05"/><circle cx="404.88" cy="479.15" r="2.05"/><circle cx="404.88" cy="478.66" r="2.05"/><circle cx="404.88" cy="476.78" r="2.05"/><circle cx="404.88" cy="476.17" r="2.05"/><circle cx="404.88" cy="475.99" r="2.05"/><circle cx="404.88" cy="475.16" r="2.05"/><circle cx="404.88" cy="474.59" r="2.05"/><circle cx="404.88" cy="474" r="2.05"/><circle cx="404.88" cy="473.96" r="2.05"/><circle cx="404.88" cy="472.87" r="2.05"/><circle cx="404.88" cy="468.76" r="2.05"/><circle cx="404.88" cy="466" r="2.05"/></g>
<polygon points="381.5,531 428.25,531 428.25,542.8 416.56,545 428.25,547.2 428.25,550.5 381.5,550.5 381.5,547.2 393.19,545 381.5,542.8" fill="#00ffff" stroke="#0b5050" stroke-width="0.85" stroke-linejoin="miter"/>
<line x1="393.19" y1="545" x2="416.56" y2="545" stroke="#000" stroke-width="1.8"/>
<line x1="462.38" y1="586.75" x2="462.38" y2="589.25" stroke="#4a4a4a" stroke-width="1" stroke-dasharray="2.0 2.7"/>
<line x1="462.38" y1="600.75" x2="462.38" y2="617" stroke="#4a4a4a" stroke-width="1" stroke-dasharray="2.0 2.7"/>
<line x1="450.81" y1="586.75" x2="473.94" y2="586.75" stroke="#444" stroke-width="1"/>
<line x1="450.81" y1="617" x2="473.94" y2="617" stroke="#444" stroke-width="1"/>
<g fill="none" stroke="#0a0a0a" stroke-opacity="1" stroke-width="0.9"><circle cx="462.38" cy="617.6" r="2.05"/><circle cx="462.38" cy="618.19" r="2.05"/><circle cx="462.38" cy="619.59" r="2.05"/><circle cx="462.38" cy="619.76" r="2.05"/><circle cx="462.38" cy="620.12" r="2.05"/><circle cx="462.38" cy="621.27" r="2.05"/><circle cx="462.38" cy="624.96" r="2.05"/><circle cx="462.38" cy="625.07" r="2.05"/><circle cx="462.38" cy="625.48" r="2.05"/><circle cx="462.38" cy="625.77" r="2.05"/><circle cx="462.38" cy="626.29" r="2.05"/><circle cx="462.38" cy="629.89" r="2.05"/><circle cx="462.38" cy="631" r="2.05"/><circle cx="462.38" cy="638.75" r="2.05"/><circle cx="462.38" cy="641.8" r="2.05"/><circle cx="462.38" cy="644.9" r="2.05"/><circle cx="462.38" cy="648" r="2.05"/><circle cx="462.38" cy="651" r="2.05"/><circle cx="462.38" cy="663" r="2.05"/></g>
<polygon points="439.25,589.25 485.5,589.25 485.5,591.6 473.94,593 485.5,594.4 485.5,600.75 439.25,600.75 439.25,594.4 450.81,593 439.25,591.6" fill="#ee82ee" stroke="#5a2a5a" stroke-width="0.85" stroke-linejoin="miter"/>
<line x1="450.81" y1="593" x2="473.94" y2="593" stroke="#000" stroke-width="1.8"/>
<line x1="519.88" y1="470" x2="519.88" y2="529.5" stroke="#000" stroke-width="4.3" stroke-linecap="round"/>
<line x1="519.88" y1="612.5" x2="519.88" y2="629.5" stroke="#000" stroke-width="4.3" stroke-linecap="round"/>
<line x1="519.88" y1="531" x2="519.88" y2="561.25" stroke="#4a4a4a" stroke-width="1" stroke-dasharray="2.0 2.7"/>
<line x1="519.88" y1="581.25" x2="519.88" y2="611.25" stroke="#4a4a4a" stroke-width="1" stroke-dasharray="2.0 2.7"/>
<line x1="508.19" y1="531" x2="531.56" y2="531" stroke="#444" stroke-width="1"/>
<line x1="508.19" y1="611.25" x2="531.56" y2="611.25" stroke="#444" stroke-width="1"/>
<g fill="none" stroke="#0a0a0a" stroke-opacity="1" stroke-width="0.9"><circle cx="519.88" cy="421.4" r="2.05"/><circle cx="519.88" cy="422.6" r="2.05"/><circle cx="519.88" cy="428.75" r="2.05"/><circle cx="519.88" cy="432" r="2.05"/><circle cx="519.88" cy="435.4" r="2.05"/><circle cx="519.88" cy="438.75" r="2.05"/><circle cx="519.88" cy="450" r="2.05"/><circle cx="519.88" cy="453.75" r="2.05"/><circle cx="519.88" cy="457.5" r="2.05"/><circle cx="519.88" cy="463.75" r="2.05"/><circle cx="519.88" cy="464.9" r="2.05"/><circle cx="519.88" cy="466.05" r="2.05"/><circle cx="519.88" cy="467.2" r="2.05"/><circle cx="519.88" cy="468.35" r="2.05"/><circle cx="519.88" cy="469.5" r="2.05"/><circle cx="519.88" cy="470.66" r="2.05"/><circle cx="519.88" cy="471.81" r="2.05"/><circle cx="519.88" cy="472.96" r="2.05"/><circle cx="519.88" cy="474.11" r="2.05"/><circle cx="519.88" cy="475.26" r="2.05"/><circle cx="519.88" cy="476.41" r="2.05"/><circle cx="519.88" cy="477.56" r="2.05"/><circle cx="519.88" cy="478.71" r="2.05"/><circle cx="519.88" cy="479.86" r="2.05"/><circle cx="519.88" cy="481.01" r="2.05"/><circle cx="519.88" cy="482.16" r="2.05"/><circle cx="519.88" cy="483.31" r="2.05"/><circle cx="519.88" cy="484.47" r="2.05"/><circle cx="519.88" cy="485.62" r="2.05"/><circle cx="519.88" cy="486.77" r="2.05"/><circle cx="519.88" cy="487.92" r="2.05"/><circle cx="519.88" cy="489.07" r="2.05"/><circle cx="519.88" cy="490.22" r="2.05"/><circle cx="519.88" cy="491.37" r="2.05"/><circle cx="519.88" cy="492.52" r="2.05"/><circle cx="519.88" cy="493.67" r="2.05"/><circle cx="519.88" cy="494.82" r="2.05"/><circle cx="519.88" cy="495.97" r="2.05"/><circle cx="519.88" cy="497.12" r="2.05"/><circle cx="519.88" cy="498.28" r="2.05"/><circle cx="519.88" cy="499.43" r="2.05"/><circle cx="519.88" cy="500.58" r="2.05"/><circle cx="519.88" cy="501.73" r="2.05"/><circle cx="519.88" cy="502.88" r="2.05"/><circle cx="519.88" cy="504.03" r="2.05"/><circle cx="519.88" cy="505.18" r="2.05"/><circle cx="519.88" cy="506.33" r="2.05"/><circle cx="519.88" cy="507.48" r="2.05"/><circle cx="519.88" cy="508.63" r="2.05"/><circle cx="519.88" cy="509.78" r="2.05"/><circle cx="519.88" cy="510.94" r="2.05"/><circle cx="519.88" cy="512.09" r="2.05"/><circle cx="519.88" cy="513.24" r="2.05"/><circle cx="519.88" cy="514.39" r="2.05"/><circle cx="519.88" cy="515.54" r="2.05"/><circle cx="519.88" cy="516.69" r="2.05"/><circle cx="519.88" cy="517.84" r="2.05"/><circle cx="519.88" cy="518.99" r="2.05"/><circle cx="519.88" cy="520.14" r="2.05"/><circle cx="519.88" cy="521.29" r="2.05"/><circle cx="519.88" cy="522.44" r="2.05"/><circle cx="519.88" cy="523.59" r="2.05"/><circle cx="519.88" cy="524.75" r="2.05"/><circle cx="519.88" cy="525.9" r="2.05"/><circle cx="519.88" cy="527.05" r="2.05"/><circle cx="519.88" cy="528.2" r="2.05"/><circle cx="519.88" cy="529.35" r="2.05"/><circle cx="519.88" cy="530.5" r="2.05"/><circle cx="519.88" cy="611.5" r="2.05"/><circle cx="519.88" cy="612.65" r="2.05"/><circle cx="519.88" cy="613.79" r="2.05"/><circle cx="519.88" cy="614.94" r="2.05"/><circle cx="519.88" cy="616.09" r="2.05"/><circle cx="519.88" cy="617.24" r="2.05"/><circle cx="519.88" cy="618.38" r="2.05"/><circle cx="519.88" cy="619.53" r="2.05"/><circle cx="519.88" cy="620.68" r="2.05"/><circle cx="519.88" cy="621.82" r="2.05"/><circle cx="519.88" cy="622.97" r="2.05"/><circle cx="519.88" cy="624.12" r="2.05"/><circle cx="519.88" cy="625.26" r="2.05"/><circle cx="519.88" cy="626.41" r="2.05"/><circle cx="519.88" cy="627.56" r="2.05"/><circle cx="519.88" cy="628.71" r="2.05"/><circle cx="519.88" cy="629.85" r="2.05"/><circle cx="519.88" cy="631" r="2.05"/><circle cx="519.88" cy="638.75" r="2.05"/><circle cx="519.88" cy="641.7" r="2.05"/><circle cx="519.88" cy="644.6" r="2.05"/><circle cx="519.88" cy="647.5" r="2.05"/><circle cx="519.88" cy="663" r="2.05"/></g>
<polygon points="496.5,561.25 543.25,561.25 543.25,571.05 531.56,571.75 543.25,572.45 543.25,581.25 496.5,581.25 496.5,572.45 508.19,571.75 496.5,571.05" fill="#adadad" stroke="#4a4a4a" stroke-width="0.85" stroke-linejoin="miter"/>
<line x1="508.19" y1="571.75" x2="531.56" y2="571.75" stroke="#000" stroke-width="1.8"/>
</g>
<line x1="129.8" y1="569.6" x2="556.8" y2="569.6" stroke="#5785c6" stroke-width="0.95"/>
<line x1="508.2" y1="571.75" x2="531.6" y2="571.75" stroke="#0a1530" stroke-width="2"/>
<line x1="173.9" y1="664.5" x2="520.5" y2="664.5" stroke="#505050" stroke-width="1.2"/>
<line x1="174.5" y1="664.5" x2="174.5" y2="670.3" stroke="#505050" stroke-width="1.2"/>
<line x1="232.4" y1="664.5" x2="232.4" y2="670.3" stroke="#505050" stroke-width="1.2"/>
<line x1="289.7" y1="664.5" x2="289.7" y2="670.3" stroke="#505050" stroke-width="1.2"/>
<line x1="347.3" y1="664.5" x2="347.3" y2="670.3" stroke="#505050" stroke-width="1.2"/>
<line x1="404.9" y1="664.5" x2="404.9" y2="670.3" stroke="#505050" stroke-width="1.2"/>
<line x1="462.4" y1="664.5" x2="462.4" y2="670.3" stroke="#505050" stroke-width="1.2"/>
<line x1="519.9" y1="664.5" x2="519.9" y2="670.3" stroke="#505050" stroke-width="1.2"/>
<text x="174.8" y="659.3" font-size="8.8" text-anchor="middle" fill="#333">550</text>
<text x="232.7" y="659.3" font-size="8.8" text-anchor="middle" fill="#333">494</text>
<text x="290" y="659.3" font-size="8.8" text-anchor="middle" fill="#333">6491</text>
<text x="347.6" y="659.3" font-size="8.8" text-anchor="middle" fill="#333">0</text>
<text x="405.2" y="659.3" font-size="8.8" text-anchor="middle" fill="#333">554</text>
<text x="462.7" y="659.3" font-size="8.8" text-anchor="middle" fill="#333">526</text>
<text x="520.2" y="659.3" font-size="8.8" text-anchor="middle" fill="#333">5835</text>
<text x="167.6" y="681.8" font-size="13.2" text-anchor="start" fill="#111" textLength="167" lengthAdjust="spacingAndGlyphs" transform="rotate(45 167.6 681.8)">non-iESR_mRNA_up_s6,e3</text>
<text x="230.2" y="681.8" font-size="13.2" text-anchor="start" fill="#111" textLength="169" lengthAdjust="spacingAndGlyphs" transform="rotate(45 230.2 681.8)">non-rESR_mRNA_dn_s6,e3</text>
<text x="283.2" y="681.8" font-size="13.2" text-anchor="start" fill="#111" textLength="17.6" lengthAdjust="spacingAndGlyphs" transform="rotate(45 283.2 681.8)">All</text>
<text x="411.3" y="681.8" font-size="13.2" text-anchor="start" fill="#111" textLength="167" lengthAdjust="spacingAndGlyphs" transform="rotate(45 411.3 681.8)">non-iESR_mRNA_up_s6,e3</text>
<text x="472.8" y="681.8" font-size="13.2" text-anchor="start" fill="#111" textLength="168.4" lengthAdjust="spacingAndGlyphs" transform="rotate(45 472.8 681.8)">non-rESR_mRNA_dn_s6,e3</text>
<text x="525.6" y="681.8" font-size="13.2" text-anchor="start" fill="#111" textLength="17.6" lengthAdjust="spacingAndGlyphs" transform="rotate(45 525.6 681.8)">All</text>
<text x="80.7" y="825.9" font-size="12.8" text-anchor="start" fill="#111" textLength="51.6" lengthAdjust="spacingAndGlyphs">Median:</text>
<text x="172.9" y="825.9" font-size="12.8" text-anchor="middle" fill="#111" textLength="26.8" lengthAdjust="spacingAndGlyphs">2.79</text>
<text x="233.2" y="825.9" font-size="12.8" text-anchor="middle" fill="#111" textLength="26.8" lengthAdjust="spacingAndGlyphs">0.88</text>
<text x="301.4" y="825.9" font-size="12.8" text-anchor="middle" fill="#111" textLength="26.8" lengthAdjust="spacingAndGlyphs">1.46</text>
<text x="399" y="825.9" font-size="12.8" text-anchor="middle" fill="#111" textLength="26.8" lengthAdjust="spacingAndGlyphs">1.84</text>
<text x="465.7" y="825.9" font-size="12.8" text-anchor="middle" fill="#111" textLength="26.8" lengthAdjust="spacingAndGlyphs">0.57</text>
<text x="529.7" y="825.9" font-size="12.8" text-anchor="middle" fill="#111" textLength="26.8" lengthAdjust="spacingAndGlyphs">0.97</text>
<line x1="156.2" y1="836.8" x2="315.4" y2="836.8" stroke="#333" stroke-width="1"/>
<line x1="386.2" y1="836.4" x2="544.4" y2="836.4" stroke="#333" stroke-width="1"/>
<text x="204.8" y="854.6" font-size="12.8" text-anchor="start" fill="#111" textLength="53.6" lengthAdjust="spacingAndGlyphs">Absolute</text>
<text x="444.2" y="853.8" font-size="12.8" text-anchor="start" fill="#111" textLength="47.6" lengthAdjust="spacingAndGlyphs">Relative</text>
</g>
</svg></body></html>
